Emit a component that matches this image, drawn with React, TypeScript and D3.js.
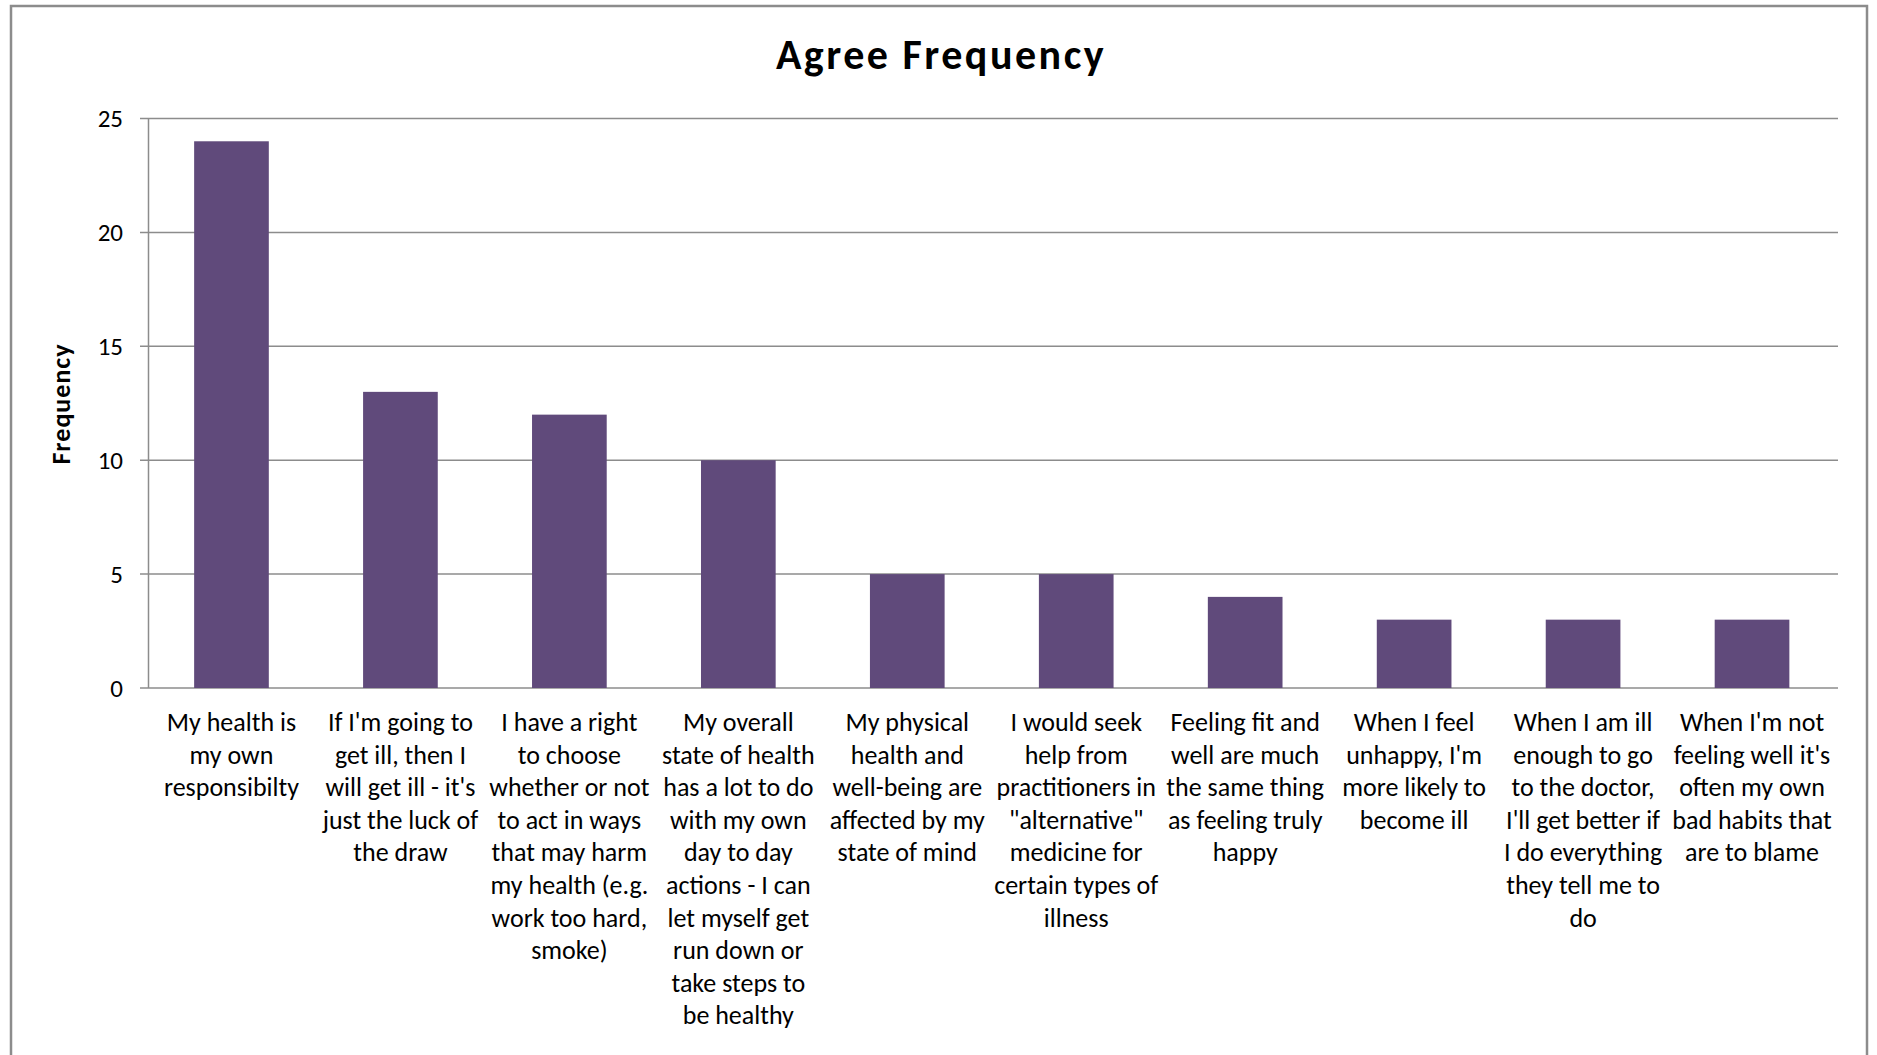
import React from "react";
import * as d3 from "d3";

const chartTitle = "Agree Frequency";
const yAxisTitle = "Frequency";
const categories: string[][] = [
  ["My health is", "my own", "responsibilty"],
  ["If I'm going to", "get ill, then I", "will get ill - it's", "just the luck of", "the draw"],
  ["I have a right", "to choose", "whether or not", "to act in ways", "that may harm", "my health (e.g.", "work too hard,", "smoke)"],
  ["My overall", "state of health", "has a lot to do", "with my own", "day to day", "actions - I can", "let myself get", "run down or", "take steps to", "be healthy"],
  ["My physical", "health and", "well-being are", "affected by my", "state of mind"],
  ["I would seek", "help from", "practitioners in", "\"alternative\"", "medicine for", "certain types of", "illness"],
  ["Feeling fit and", "well are much", "the same thing", "as feeling truly", "happy"],
  ["When I feel", "unhappy, I'm", "more likely to", "become ill"],
  ["When I am ill", "enough to go", "to the doctor,", "I'll get better if", "I do everything", "they tell me to", "do"],
  ["When I'm not", "feeling well it's", "often my own", "bad habits that", "are to blame"],
];
const frequencies = [24, 13, 12, 10, 5, 5, 4, 3, 3, 3];
const yTicks = [0, 5, 10, 15, 20, 25];

const W = 1877;
const H = 1055;
const FONT = "Carlito, Calibri, Lato, sans-serif";
const BAR = "#604A7B";
const GRID = "#8c8c8c";

export default function App() {
  const plotLeft = 148.5;
  const plotRight = 1838;
  const plotTop = 118.5;
  const plotBottom = 688;

  const x = d3
    .scaleBand<number>()
    .domain(d3.range(categories.length))
    .range([plotLeft - 1.5, plotRight - 1.5])
    .paddingInner(0.558)
    .paddingOuter(0.279);
  const y = d3.scaleLinear().domain([0, 25]).range([plotBottom, plotTop]);

  return (
    <svg
      width={W}
      height={H}
      style={{ position: "absolute", left: 0, top: 0, background: "#fff" }}
    >
      <rect x={0} y={0} width={W} height={H} fill="#fff" />
      <rect x={11} y={6} width={1856} height={1100} fill="#fff" stroke={GRID} strokeWidth={2.5} />
      <text
        x={941}
        y={69}
        textAnchor="middle"
        fontFamily={FONT}
        fontWeight="bold"
        fontSize={42}
        letterSpacing={2.5}
        fill="#000"
      >
        {chartTitle}
      </text>
      {yTicks.map((t) => (
        <g key={t}>
          <line x1={140} x2={plotRight} y1={y(t)} y2={y(t)} stroke={GRID} strokeWidth={1.5} />
          <text
            x={123}
            y={y(t)}
            dy="0.35em"
            textAnchor="end"
            fontFamily={FONT}
            fontSize={25}
            fill="#000"
          >
            {t}
          </text>
        </g>
      ))}
      <line x1={plotLeft} x2={plotLeft} y1={plotTop} y2={plotBottom} stroke={GRID} strokeWidth={1.5} />
      {frequencies.map((v, i) => (
        <rect
          key={i}
          x={x(i)}
          y={y(v)}
          width={x.bandwidth()}
          height={y(0) - y(v)}
          fill={BAR}
        />
      ))}
      <text
        transform={`translate(70,404) rotate(-90)`}
        textAnchor="middle"
        fontFamily={FONT}
        fontWeight="bold"
        fontSize={26}
        letterSpacing={1}
        fill="#000"
      >
        {yAxisTitle}
      </text>
      {categories.map((lines, i) => (
        <text
          key={i}
          textAnchor="middle"
          fontFamily={FONT}
          fontSize={26}
          fill="#000"
        >
          {lines.map((ln, j) => (
            <tspan key={j} x={(x(i) as number) + x.bandwidth() / 2} y={731 + j * 32.6}>
              {ln}
            </tspan>
          ))}
        </text>
      ))}
    </svg>
  );
}
